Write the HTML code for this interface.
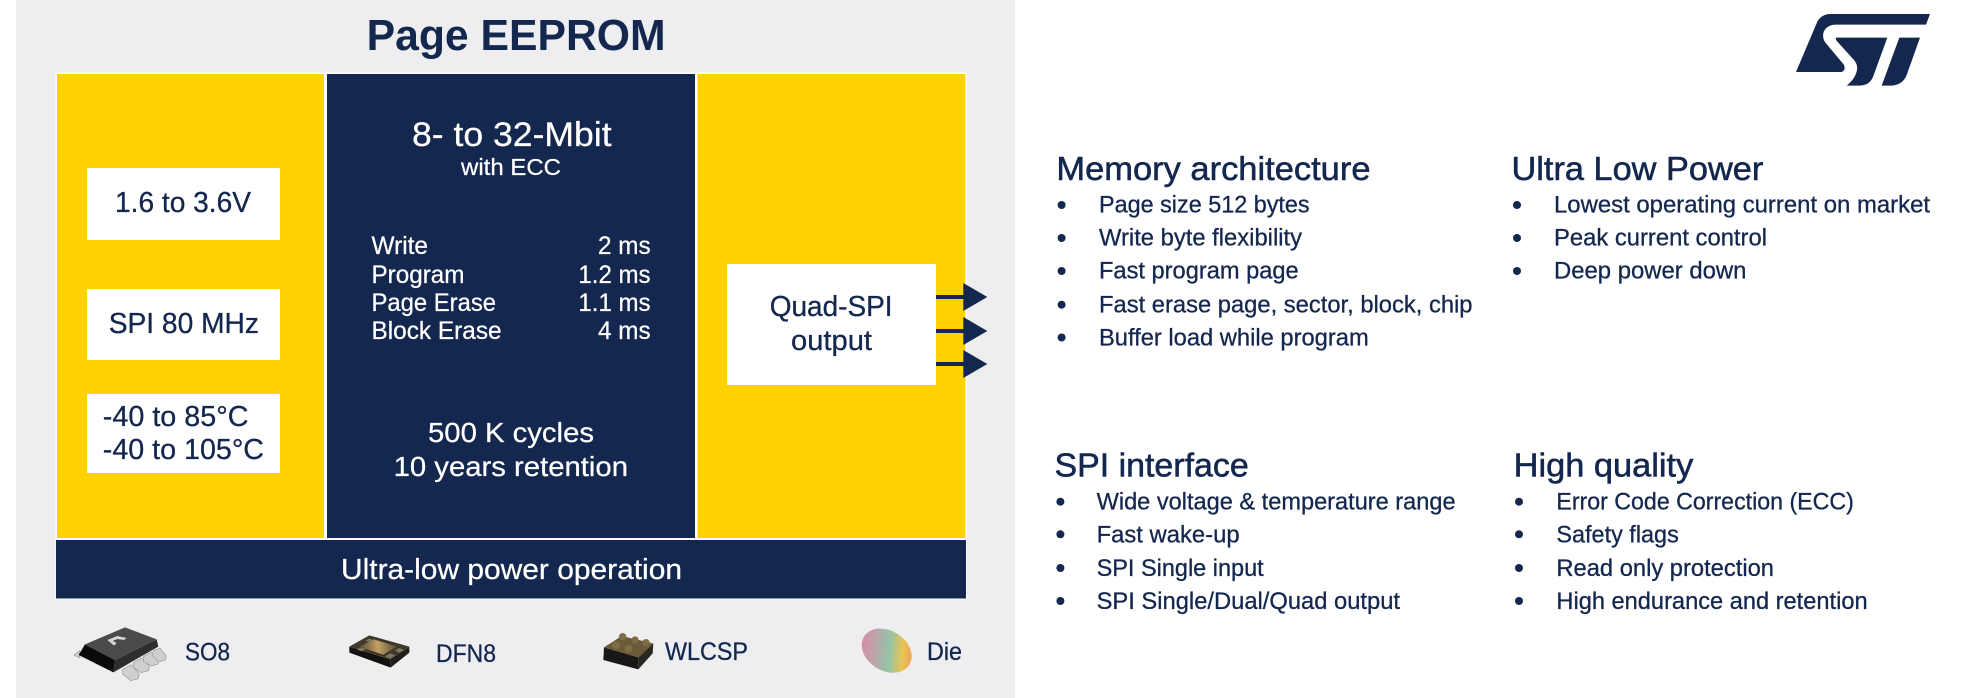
<!DOCTYPE html>
<html lang="en">
<head>
<meta charset="utf-8">
<title>Page EEPROM</title>
<style>
html,body{margin:0;padding:0;background:#fff;width:1966px;height:698px;overflow:hidden}
svg{display:block}
text{font-family:"Liberation Sans",Arial,sans-serif;fill:#14274f;stroke:#14274f;stroke-width:.3px}
.w{fill:#fff;stroke:#fff;stroke-width:.25px}
.b{font-weight:bold;stroke-width:0}
.h{stroke-width:.55px}
</style>
</head>
<body>
<svg width="1966" height="698" viewBox="0 0 1966 698" xmlns="http://www.w3.org/2000/svg">
<defs>
<linearGradient id="die" x1="0" y1="0.7" x2="1" y2="0.3">
<stop offset="0" stop-color="#d98aa6"/><stop offset=".3" stop-color="#bba6a8"/><stop offset=".55" stop-color="#94c4a8"/><stop offset=".8" stop-color="#eac552"/><stop offset="1" stop-color="#ee9a5c"/>
</linearGradient>
<linearGradient id="gold" x1="0" y1="0" x2="1" y2="0">
<stop offset="0" stop-color="#5a4a30"/><stop offset=".5" stop-color="#c2a066"/><stop offset="1" stop-color="#5f5034"/>
</linearGradient>
</defs>

<rect x="16" y="0" width="999" height="698" fill="#eeeef0"/>

<text x="366.600" y="50" font-size="44" class="b" textLength="299" lengthAdjust="spacingAndGlyphs">Page EEPROM</text>

<rect x="55.500" y="72.500" width="911.500" height="527" fill="#fff"/>
<rect x="57" y="74" width="267" height="464" fill="#ffd200"/>
<rect x="327" y="74" width="368" height="464" fill="#14274f"/>
<rect x="697.500" y="74" width="268" height="464" fill="#ffd200"/>
<rect x="56" y="540" width="910" height="58.500" fill="#14274f"/>

<rect x="87" y="168" width="193" height="72" fill="#fff"/>
<rect x="87" y="289" width="193" height="71" fill="#fff"/>
<rect x="87" y="394" width="193" height="79" fill="#fff"/>
<rect x="727" y="264" width="209" height="121" fill="#fff"/>

<text x="115" y="212" font-size="28.500" textLength="136" lengthAdjust="spacingAndGlyphs">1.6 to 3.6V</text>
<text x="108.700" y="333" font-size="28.500" textLength="150.300" lengthAdjust="spacingAndGlyphs">SPI 80 MHz</text>
<text x="102.800" y="426" font-size="28.500" textLength="145.700" lengthAdjust="spacingAndGlyphs">-40 to 85°C</text>
<text x="102.800" y="459" font-size="28.500" textLength="161.200" lengthAdjust="spacingAndGlyphs">-40 to 105°C</text>

<text class="w" x="412" y="146" font-size="34" textLength="199.600" lengthAdjust="spacingAndGlyphs">8- to 32-Mbit</text>
<text class="w" x="461" y="175" font-size="23.500" textLength="100" lengthAdjust="spacingAndGlyphs">with ECC</text>

<text class="w" x="371.500" y="254" font-size="25" textLength="56.500" lengthAdjust="spacingAndGlyphs">Write</text>
<text class="w" x="371.500" y="283" font-size="25" textLength="93" lengthAdjust="spacingAndGlyphs">Program</text>
<text class="w" x="371.500" y="311" font-size="25" textLength="124.500" lengthAdjust="spacingAndGlyphs">Page Erase</text>
<text class="w" x="371.500" y="339" font-size="25" textLength="130.100" lengthAdjust="spacingAndGlyphs">Block Erase</text>
<text class="w" x="598" y="254" font-size="25" textLength="52.600" lengthAdjust="spacingAndGlyphs">2 ms</text>
<text class="w" x="578.400" y="283" font-size="25" textLength="72.200" lengthAdjust="spacingAndGlyphs">1.2 ms</text>
<text class="w" x="578.400" y="311" font-size="25" textLength="72.200" lengthAdjust="spacingAndGlyphs">1.1 ms</text>
<text class="w" x="598" y="339" font-size="25" textLength="52.600" lengthAdjust="spacingAndGlyphs">4 ms</text>

<text class="w" x="428" y="442" font-size="27.500" textLength="166" lengthAdjust="spacingAndGlyphs">500 K cycles</text>
<text class="w" x="393.600" y="476" font-size="27.500" textLength="234.400" lengthAdjust="spacingAndGlyphs">10 years retention</text>
<text class="w" x="341" y="579" font-size="28.500" textLength="341" lengthAdjust="spacingAndGlyphs">Ultra-low power operation</text>

<text x="769.700" y="316" font-size="28.500" textLength="122.900" lengthAdjust="spacingAndGlyphs">Quad-SPI</text>
<text x="791" y="350" font-size="28.500" textLength="81" lengthAdjust="spacingAndGlyphs">output</text>

<g fill="#14274f">
<rect x="936" y="295" width="28" height="4"/>
<rect x="936" y="329" width="28" height="4"/>
<rect x="936" y="362" width="28" height="4"/>
<polygon points="963.300,283 987.300,297 963.300,311"/>
<polygon points="963.300,317 987.300,331 963.300,345"/>
<polygon points="963.300,350 987.300,364 963.300,378"/>
</g>

<!-- package icons -->
<g transform="translate(50,610) scale(.33333)">
<g fill="#cfcfcf" stroke="#9a9a9a" stroke-width="2">
<path d="M218 178 l26 -14 l24 28 l-4 14 l-22 6 l-24 -20z"/>
<path d="M250 158 l24 -14 l24 24 l-2 14 l-22 6 l-24 -16z"/>
<path d="M280 140 l24 -14 l22 24 l-2 12 l-20 6 l-24 -14z"/>
<path d="M310 122 l20 -8 l18 24 l-2 12 l-20 6 l-20 -20z"/>
<path d="M88 122 l-16 14 l18 8z"/>
</g>
<polygon points="105,103 195,150 190,187 86,135" fill="#0b0b0b"/>
<polygon points="195,150 320,88 325,110 190,187" fill="#2e2e2e"/>
<polygon points="105,103 225,52 320,88 195,150" fill="#4a4a4a"/>
<path d="M172 90 l30 -12 l28 6 l-8 6 l-20 -3 l-14 6 l12 6 l-8 8z" fill="#d6d6d6"/>
</g>
<g transform="translate(50,610) scale(.33333)">
<polygon points="898,110 1020,148 1022,173 898,128" fill="#141210"/>
<polygon points="1020,148 1078,110 1078,128 1022,173" fill="#221f1a"/>
<polygon points="898,110 958,76 1078,110 1020,148" fill="#3f3929"/>
<polygon points="928,110 972,88 1040,110 1000,134" fill="url(#gold)"/>
<g fill="#7c7560">
<polygon points="1005,140 1020,130 1036,136 1020,146"/>
<polygon points="1034,122 1048,114 1062,120 1048,128"/>
<polygon points="920,118 934,112 948,118 934,124"/>
<polygon points="945,92 958,86 970,90 958,96"/>
</g>
</g>
<g transform="translate(580,610) scale(.33333)">
<polygon points="72,112 175,142 175,178 70,150" fill="#1a1816"/>
<polygon points="175,142 220,100 218,130 175,178" fill="#2a2723"/>
<polygon points="72,112 125,78 220,100 175,142" fill="#6a5a38"/>
<g fill="#7f6c44">
<circle cx="128" cy="80" r="11"/><circle cx="165" cy="90" r="11"/><circle cx="198" cy="98" r="11"/>
<circle cx="108" cy="106" r="12"/><circle cx="146" cy="116" r="12"/>
</g>
</g>
<g transform="translate(580,610) scale(.33333)">
<ellipse cx="920" cy="122" rx="80" ry="60" transform="rotate(32 920 122)" fill="url(#die)"/>
</g>

<text x="185" y="660.700" font-size="25" textLength="45" lengthAdjust="spacingAndGlyphs">SO8</text>
<text x="436" y="662" font-size="25" textLength="60" lengthAdjust="spacingAndGlyphs">DFN8</text>
<text x="665" y="660" font-size="25" textLength="83" lengthAdjust="spacingAndGlyphs">WLCSP</text>
<text x="927" y="660" font-size="25" textLength="35" lengthAdjust="spacingAndGlyphs">Die</text>

<!-- logo -->
<g transform="translate(1780,0) scale(.33333)" fill="#14274f">
<path d="M150 42 L450 42 L438 74 L168 74 C146 74 133 86 130 100 C128 110 130 120 138 130 L190 192 C197 202 195 216 180 216 L48 216 L112 65 C120 50 135 42 150 42Z"/>
<path d="M168 113 L322 113 L280 228 C272 250 257 257 235 257 L200 257 C215 245 225 232 230 215 C234 200 230 190 222 180 L172 125 C168 120 166 116 168 113Z"/>
<path d="M358 113 L420 113 L380 225 C372 247 352 257 330 257 L305 257Z"/>
</g>

<!-- right text -->
<g font-size="33.500" class="h">
<text class="h" x="1056.400" y="180" textLength="314.100" lengthAdjust="spacingAndGlyphs">Memory architecture</text>
<text class="h" x="1511.500" y="180" textLength="251.800" lengthAdjust="spacingAndGlyphs">Ultra Low Power</text>
<text class="h" x="1054.500" y="476.700" textLength="194.200" lengthAdjust="spacingAndGlyphs">SPI interface</text>
<text class="h" x="1513.700" y="476.700" textLength="179.600" lengthAdjust="spacingAndGlyphs">High quality</text>
</g>

<g fill="#14274f">
<circle cx="1061.600" cy="205" r="4"/><circle cx="1061.600" cy="238" r="4"/><circle cx="1061.600" cy="271" r="4"/><circle cx="1061.600" cy="304.700" r="4"/><circle cx="1061.600" cy="337.500" r="4"/>
<circle cx="1517" cy="205" r="4"/><circle cx="1517" cy="238" r="4"/><circle cx="1517" cy="271" r="4"/>
<circle cx="1060.400" cy="501.700" r="4"/><circle cx="1060.400" cy="534.300" r="4"/><circle cx="1060.400" cy="568" r="4"/><circle cx="1060.400" cy="601" r="4"/>
<circle cx="1519" cy="501.700" r="4"/><circle cx="1519" cy="534.300" r="4"/><circle cx="1519" cy="568" r="4"/><circle cx="1519" cy="601" r="4"/>
</g>

<g font-size="24">
<text x="1099" y="212.700" textLength="210.600" lengthAdjust="spacingAndGlyphs">Page size 512 bytes</text>
<text x="1099" y="245.700" textLength="203" lengthAdjust="spacingAndGlyphs">Write byte flexibility</text>
<text x="1099" y="278.700" textLength="199.700" lengthAdjust="spacingAndGlyphs">Fast program page</text>
<text x="1099" y="312.700" textLength="373.500" lengthAdjust="spacingAndGlyphs">Fast erase page, sector, block, chip</text>
<text x="1099" y="345.500" textLength="269.700" lengthAdjust="spacingAndGlyphs">Buffer load while program</text>

<text x="1554" y="212.700" textLength="376" lengthAdjust="spacingAndGlyphs">Lowest operating current on market</text>
<text x="1554" y="245.700" textLength="213" lengthAdjust="spacingAndGlyphs">Peak current control</text>
<text x="1554" y="278.700" textLength="192.400" lengthAdjust="spacingAndGlyphs">Deep power down</text>

<text x="1096.600" y="509.700" textLength="359" lengthAdjust="spacingAndGlyphs">Wide voltage &amp; temperature range</text>
<text x="1096.600" y="542.700" textLength="143" lengthAdjust="spacingAndGlyphs">Fast wake-up</text>
<text x="1096.600" y="576" textLength="167.100" lengthAdjust="spacingAndGlyphs">SPI Single input</text>
<text x="1096.600" y="609" textLength="303.400" lengthAdjust="spacingAndGlyphs">SPI Single/Dual/Quad output</text>

<text x="1556.400" y="509.700" textLength="297.400" lengthAdjust="spacingAndGlyphs">Error Code Correction (ECC)</text>
<text x="1556.400" y="542.700" textLength="122.400" lengthAdjust="spacingAndGlyphs">Safety flags</text>
<text x="1556.400" y="576" textLength="217.600" lengthAdjust="spacingAndGlyphs">Read only protection</text>
<text x="1556.400" y="609" textLength="311.200" lengthAdjust="spacingAndGlyphs">High endurance and retention</text>
</g>
</svg>
</body>
</html>
